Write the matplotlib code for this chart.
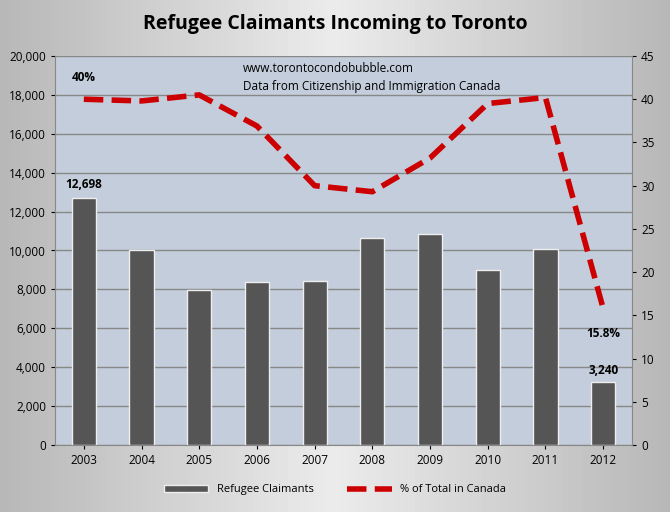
import matplotlib.pyplot as plt
import numpy as np
from matplotlib.ticker import FuncFormatter

plt.rcParams['font.family'] = ['Open Sans', 'DejaVu Sans']

years = ["2003", "2004", "2005", "2006", "2007", "2008", "2009", "2010", "2011", "2012"]
claimants = [12698, 10050, 7950, 8400, 8450, 10650, 10850, 9020, 10100, 3240]
pct_canada = [40.0, 39.8, 40.5, 36.9, 30.0, 29.3, 33.2, 39.5, 40.2, 15.8]

fig = plt.figure(figsize=(6.7, 5.12), dpi=100)
fig.patch.set_facecolor("#c9ccd3")
# soft background gradient
bg = fig.add_axes([0, 0, 1, 1], zorder=-10)
grad = np.tile(np.concatenate([np.linspace(0.72, 0.92, 50), np.linspace(0.92, 0.72, 50)]), (10, 1))
bg.imshow(grad, cmap="gray", vmin=0, vmax=1, aspect="auto", extent=[0, 1, 0, 1])
bg.axis("off")

ax = fig.add_axes([55 / 670, 1 - 445 / 512, 577 / 670, 389 / 512])
ax.set_facecolor("#c3cddb")
x = np.arange(len(years))
ax.bar(x, claimants, width=0.42, color="#555555", edgecolor="#eeeeee", linewidth=1, zorder=3,
       label="Refugee Claimants")
ax.set_ylim(0, 20000)
ax.set_xlim(-0.5, len(years) - 0.5)
ax.set_yticks(range(0, 20001, 2000))
ax.yaxis.set_major_formatter(FuncFormatter(lambda v, p: f"{int(v):,}"))
ax.grid(axis="y", color="#888888", linewidth=1, zorder=0)
ax.set_xticks(x)
ax.set_xticklabels(years)
ax.tick_params(labelsize=8.5, length=3)
for s in ["top", "right"]:
    ax.spines[s].set_visible(False)
ax.spines["left"].set_color("#888888")
ax.spines["bottom"].set_color("#888888")

ax.text(x[0], claimants[0] + 350, f"{claimants[0]:,}", ha="center", va="bottom", fontsize=8.5, fontweight="bold")
ax.text(x[-1], claimants[-1] + 250, f"{claimants[-1]:,}", ha="center", va="bottom", fontsize=8.5, fontweight="bold")

ax2 = ax.twinx()
ax2.plot(x, pct_canada, color="#cc0000", linewidth=4, linestyle=(0, (3.5, 1.5)), zorder=4,
         label="% of Total in Canada")
ax2.set_ylim(0, 45)
ax2.set_yticks(range(0, 46, 5))
ax2.tick_params(labelsize=8.5, length=3)
for s in ["top", "left", "bottom"]:
    ax2.spines[s].set_visible(False)
ax2.spines["right"].set_color("#888888")
ax2.text(x[0], 41.8, f"{pct_canada[0]:.0f}%", ha="center", va="bottom", fontsize=8.5, fontweight="bold")
ax2.text(x[-1], 13.7, f"{pct_canada[-1]}%", ha="center", va="top", fontsize=8.5, fontweight="bold")

ax.text(0.325, 0.985, "www.torontocondobubble.com\nData from Citizenship and Immigration Canada",
        transform=ax.transAxes, ha="left", va="top", fontsize=8.5, linespacing=1.5)

fig.text(0.5, 0.953, "Refugee Claimants Incoming to Toronto", ha="center", va="center",
         fontsize=14, fontweight="bold")

h1, l1 = ax.get_legend_handles_labels()
h2, l2 = ax2.get_legend_handles_labels()
fig.legend(h1 + h2, l1 + l2, loc="center", bbox_to_anchor=(0.5, 0.043), ncol=2, frameon=False,
           fontsize=8, handlelength=4, columnspacing=3)

fig.savefig("out.png", dpi=100)
